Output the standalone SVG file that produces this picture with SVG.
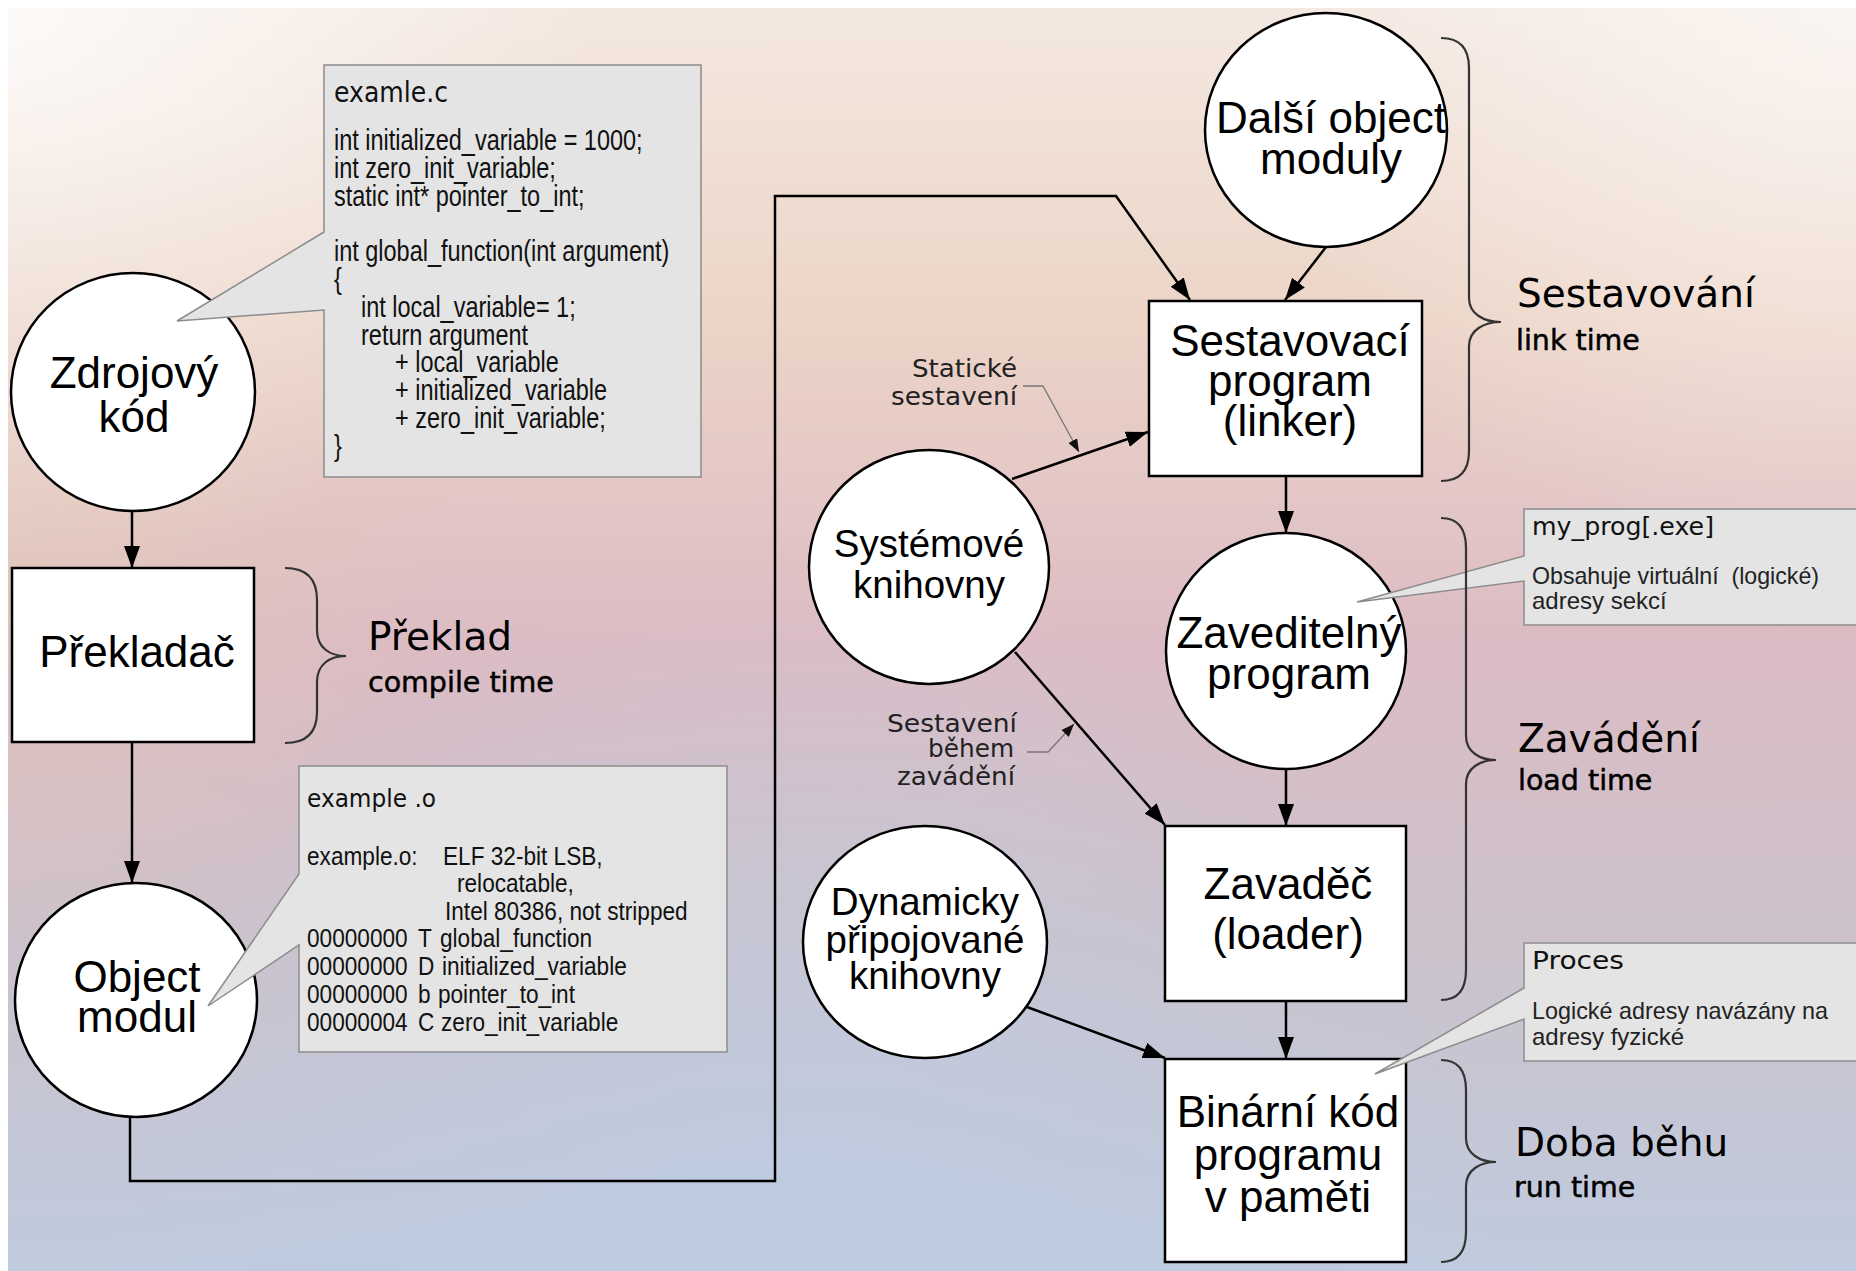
<svg xmlns="http://www.w3.org/2000/svg" width="1856" height="1271" viewBox="0 0 1856 1271">
<defs>
<linearGradient id="bgv" x1="0" y1="0" x2="0" y2="1">
<stop offset="0" stop-color="#f4e8e0"/>
<stop offset="0.25" stop-color="#ecd4c7"/>
<stop offset="0.5" stop-color="#dcbcc4"/>
<stop offset="0.75" stop-color="#cbc2cc"/>
<stop offset="1" stop-color="#bfcbde"/>
</linearGradient>
<radialGradient id="tl" cx="0" cy="0" r="600" gradientUnits="userSpaceOnUse">
<stop offset="0" stop-color="#ffffff" stop-opacity="0.8"/>
<stop offset="1" stop-color="#ffffff" stop-opacity="0"/>
</radialGradient>
<radialGradient id="tr" cx="1856" cy="0" r="600" gradientUnits="userSpaceOnUse">
<stop offset="0" stop-color="#ffffff" stop-opacity="0.6"/>
<stop offset="1" stop-color="#ffffff" stop-opacity="0"/>
</radialGradient>
<radialGradient id="bc" cx="800" cy="1271" r="700" gradientUnits="userSpaceOnUse">
<stop offset="0" stop-color="#bccde4" stop-opacity="0.7"/>
<stop offset="1" stop-color="#bccde4" stop-opacity="0"/>
</radialGradient>
<radialGradient id="lm" cx="0" cy="520" r="450" gradientUnits="userSpaceOnUse">
<stop offset="0" stop-color="#e2c6b6" stop-opacity="0.7"/>
<stop offset="1" stop-color="#e2c6b6" stop-opacity="0"/>
</radialGradient>
<marker id="arr" markerUnits="userSpaceOnUse" markerWidth="24" markerHeight="18" refX="22" refY="8" orient="auto">
<path d="M0,0 L22,8 L0,16 z" fill="#000"/>
</marker>
<marker id="sarr" markerUnits="userSpaceOnUse" markerWidth="14" markerHeight="10" refX="13" refY="5" orient="auto">
<path d="M0,0 L13,5 L0,10 z" fill="#111"/>
</marker>
</defs>
<style>
.node{fill:#fff;stroke:#000;stroke-width:2.5}
.lbl{font-family:"Liberation Sans",Arial,sans-serif;font-size:44px;fill:#000;text-anchor:middle}
.lbls{font-family:"Liberation Sans",Arial,sans-serif;font-size:38.5px;fill:#000;text-anchor:middle}
.phase{font-family:"DejaVu Sans",sans-serif;font-size:39px;fill:#000}
.sub{font-family:"DejaVu Sans",sans-serif;font-size:28.5px;fill:#000;stroke:#000;stroke-width:0.5}
.brace{fill:none;stroke:#333;stroke-width:2.2}
.conn{fill:none;stroke:#000;stroke-width:2.5}
.leader{fill:none;stroke:#777;stroke-width:1.3}
.note{font-family:"DejaVu Sans",sans-serif;font-size:24px;fill:#222;text-anchor:end}
.callout{fill:#e4e4e4;stroke:#8c8c8c;stroke-width:1.5}
.code{font-family:"Liberation Sans",Arial,sans-serif;font-size:29px;fill:#111}
.code2{font-family:"Liberation Sans",Arial,sans-serif;font-size:26px;fill:#111}
.ctitle{font-family:"DejaVu Sans",sans-serif;fill:#111}
.ctext{font-family:"Liberation Sans",Arial,sans-serif;font-size:24px;fill:#222}
</style>

<rect x="0" y="0" width="1856" height="1271" fill="#ffffff"/>
<rect x="8" y="8" width="1848" height="1263" fill="url(#bgv)"/>
<rect x="8" y="8" width="1848" height="1263" fill="url(#lm)"/>
<rect x="8" y="8" width="1848" height="1263" fill="url(#bc)"/>
<rect x="8" y="8" width="1848" height="1263" fill="url(#tl)"/>
<rect x="8" y="8" width="1848" height="1263" fill="url(#tr)"/>

<g id="connectors">
<line class="conn" x1="132" y1="511" x2="132" y2="568" marker-end="url(#arr)"/>
<line class="conn" x1="132" y1="742" x2="132" y2="883" marker-end="url(#arr)"/>
<polyline class="conn" points="130,1117 130,1181 775,1181 775,196 1116,196 1190,300" marker-end="url(#arr)"/>
<line class="conn" x1="1326" y1="247" x2="1285" y2="300" marker-end="url(#arr)"/>
<line class="conn" x1="1012" y1="479" x2="1148" y2="432" marker-end="url(#arr)"/>
<line class="conn" x1="1286" y1="476" x2="1286" y2="533" marker-end="url(#arr)"/>
<line class="conn" x1="1286" y1="769" x2="1286" y2="826" marker-end="url(#arr)"/>
<line class="conn" x1="1015" y1="652" x2="1165" y2="825" marker-end="url(#arr)"/>
<line class="conn" x1="1286" y1="1001" x2="1286" y2="1059" marker-end="url(#arr)"/>
<line class="conn" x1="1027" y1="1007" x2="1165" y2="1058" marker-end="url(#arr)"/>
</g>

<g id="node-zdrojovy-kod">
<ellipse class="node" cx="133" cy="392" rx="122" ry="119"/>
<text class="lbl" x="134" y="388">Zdrojový</text>
<text class="lbl" x="134" y="432">kód</text>
</g>

<g id="node-prekladac">
<rect class="node" x="12" y="568" width="242" height="174"/>
<text class="lbl" x="137" y="667" font-size="45">Překladač</text>
</g>

<g id="node-object-modul">
<ellipse class="node" cx="136" cy="1000" rx="121" ry="117"/>
<text class="lbl" x="137" y="992">Object</text>
<text class="lbl" x="137" y="1032">modul</text>
</g>

<g id="node-dalsi-object-moduly">
<ellipse class="node" cx="1326" cy="130" rx="121" ry="117"/>
<text class="lbl" x="1331" y="133">Další object</text>
<text class="lbl" x="1331" y="174">moduly</text>
</g>

<g id="node-sestavovaci-program">
<rect class="node" x="1149" y="301" width="273" height="175"/>
<text class="lbl" x="1290" y="356">Sestavovací</text>
<text class="lbl" x="1290" y="396">program</text>
<text class="lbl" x="1290" y="436">(linker)</text>
</g>

<g id="node-systemove-knihovny">
<ellipse class="node" cx="929" cy="567" rx="120" ry="117"/>
<text class="lbls" x="929" y="557">Systémové</text>
<text class="lbls" x="929" y="598">knihovny</text>
</g>

<g id="node-zaveditelny-program">
<ellipse class="node" cx="1286" cy="651" rx="120" ry="118"/>
<text class="lbl" x="1289" y="648">Zaveditelný</text>
<text class="lbl" x="1289" y="689">program</text>
</g>

<g id="node-zavadec">
<rect class="node" x="1165" y="826" width="241" height="175"/>
<text class="lbl" x="1288" y="899">Zavaděč</text>
<text class="lbl" x="1288" y="949">(loader)</text>
</g>

<g id="node-dynamicky-pripojovane-knihovny">
<ellipse class="node" cx="925" cy="942" rx="122" ry="116"/>
<text class="lbls" x="925" y="915">Dynamicky</text>
<text class="lbls" x="925" y="953">připojované</text>
<text class="lbls" x="925" y="989">knihovny</text>
</g>

<g id="node-binarni-kod">
<rect class="node" x="1165" y="1059" width="241" height="203"/>
<text class="lbl" x="1288" y="1127">Binární kód</text>
<text class="lbl" x="1288" y="1170">programu</text>
<text class="lbl" x="1288" y="1212">v paměti</text>
</g>

<g id="callout-example-c">
<path class="callout" d="M324,65 L701,65 L701,477 L324,477 L324,310 L177,321 L324,232 Z"/>
<text class="ctitle" x="334" y="102" font-size="28" textLength="114" lengthAdjust="spacingAndGlyphs">examle.c</text>
<g transform="scale(0.81,1)">
<text class="code" x="412.3" y="150">int initialized_variable = 1000;</text>
<text class="code" x="412.3" y="178">int zero_init_variable;</text>
<text class="code" x="412.3" y="206">static int* pointer_to_int;</text>
<text class="code" x="412.3" y="261">int global_function(int argument)</text>
<text class="code" x="412.3" y="289">{</text>
<text class="code" x="445.7" y="317">int local_variable= 1;</text>
<text class="code" x="445.7" y="345">return argument</text>
<text class="code" x="487.7" y="372">+ local_variable</text>
<text class="code" x="487.7" y="400">+ initialized_variable</text>
<text class="code" x="487.7" y="428">+ zero_init_variable;</text>
<text class="code" x="412.3" y="456">}</text>
</g>
</g>

<g id="callout-example-o">
<path class="callout" d="M299,766 L727,766 L727,1052 L299,1052 L299,945 L208,1006 L299,874 Z"/>
<text class="ctitle" x="307" y="807" font-size="24" textLength="129" lengthAdjust="spacingAndGlyphs">example .o</text>
<g transform="scale(0.87,1)">
<text class="code2" y="865"><tspan x="352.9">example.o:</tspan><tspan x="509.2">ELF 32-bit LSB,</tspan></text>
<text class="code2" x="525.3" y="892">relocatable,</text>
<text class="code2" x="511.5" y="920">Intel 80386, not stripped</text>
<text class="code2" y="947"><tspan x="352.9">00000000</tspan><tspan x="480.5">T</tspan><tspan x="505.7">global_function</tspan></text>
<text class="code2" y="975"><tspan x="352.9">00000000</tspan><tspan x="480.5">D</tspan><tspan x="508">initialized_variable</tspan></text>
<text class="code2" y="1003"><tspan x="352.9">00000000</tspan><tspan x="480.5">b</tspan><tspan x="503.4">pointer_to_int</tspan></text>
<text class="code2" y="1031"><tspan x="352.9">00000004</tspan><tspan x="480.5">C</tspan><tspan x="506.9">zero_init_variable</tspan></text>
</g>
</g>

<g id="callout-my-prog">
<path class="callout" d="M1524,509 L1862,509 L1862,625 L1524,625 L1524,581 L1357,602 L1524,556 Z"/>
<text class="ctitle" x="1532" y="535" font-size="25" textLength="182" lengthAdjust="spacingAndGlyphs">my_prog[.exe]</text>
<text class="ctext" x="1532" y="584" xml:space="preserve" textLength="287" lengthAdjust="spacingAndGlyphs">Obsahuje virtuální  (logické)</text>
<text class="ctext" x="1532" y="609">adresy sekcí</text>
</g>

<g id="callout-proces">
<path class="callout" d="M1524,943 L1862,943 L1862,1061 L1524,1061 L1524,1019 L1375,1074 L1524,988 Z"/>
<text class="ctitle" x="1532" y="969" font-size="25" textLength="92" lengthAdjust="spacingAndGlyphs">Proces</text>
<text class="ctext" x="1532" y="1019" textLength="296" lengthAdjust="spacingAndGlyphs">Logické adresy navázány na</text>
<text class="ctext" x="1532" y="1045">adresy fyzické</text>
</g>

<g id="phase-preklad">
<path class="brace" d="M285,568 C305,568 317,578 317,600 L317,630 C317,648 330,656 346,656 C330,656 317,664 317,682 L317,712 C317,734 305,743 285,743"/>
<text class="phase" x="368" y="650">Překlad</text>
<text class="sub" x="368" y="692">compile time</text>
</g>

<g id="phase-sestavovani">
<path class="brace" d="M1441,38 C1460,38 1469,48 1469,68 L1469,298 C1469,314 1484,322 1501,322 C1484,322 1469,330 1469,346 L1469,451 C1469,471 1460,481 1441,481"/>
<text class="phase" x="1517" y="307">Sestavování</text>
<text class="sub" x="1516" y="350">link time</text>
</g>

<g id="phase-zavadeni">
<path class="brace" d="M1441,518 C1458,518 1466,528 1466,548 L1466,736 C1466,752 1480,760 1496,760 C1480,760 1466,768 1466,784 L1466,970 C1466,990 1458,1000 1441,1000"/>
<text class="phase" x="1518" y="752">Zavádění</text>
<text class="sub" x="1518" y="790">load time</text>
</g>

<g id="phase-doba-behu">
<path class="brace" d="M1441,1060 C1458,1060 1466,1070 1466,1090 L1466,1138 C1466,1154 1480,1162 1496,1162 C1480,1162 1466,1170 1466,1186 L1466,1232 C1466,1252 1458,1262 1441,1262"/>
<text class="phase" x="1515" y="1156">Doba běhu</text>
<text class="sub" x="1514" y="1197">run time</text>
</g>

<g id="note-staticke">
<path class="leader" d="M1023,386 L1043,386 L1079,452" marker-end="url(#sarr)"/>
<text class="note" x="1017" y="377" textLength="105" lengthAdjust="spacingAndGlyphs">Statické</text>
<text class="note" x="1017" y="405" textLength="126" lengthAdjust="spacingAndGlyphs">sestavení</text>
</g>

<g id="note-sestaveni-behem">
<path class="leader" d="M1027,752 L1048,752 L1074,724" marker-end="url(#sarr)"/>
<text class="note" x="1017" y="732" textLength="130" lengthAdjust="spacingAndGlyphs">Sestavení</text>
<text class="note" x="1014" y="757" textLength="86" lengthAdjust="spacingAndGlyphs">během</text>
<text class="note" x="1015" y="785" textLength="118" lengthAdjust="spacingAndGlyphs">zavádění</text>
</g>
</svg>
